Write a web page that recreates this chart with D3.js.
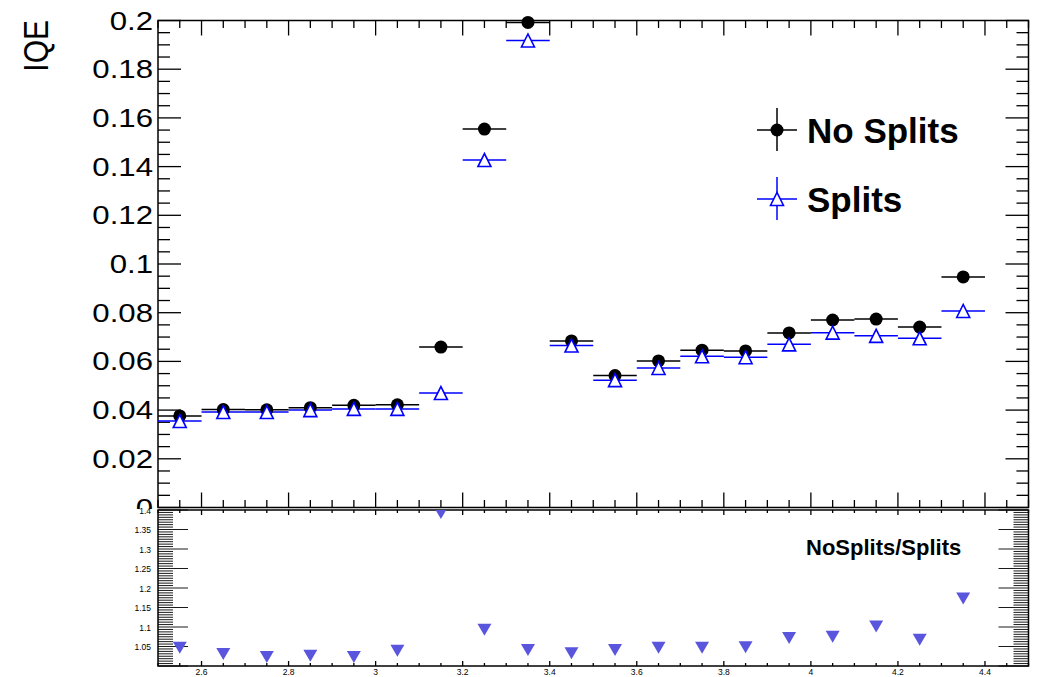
<!DOCTYPE html>
<html>
<head>
<meta charset="utf-8">
<script src="https://cdnjs.cloudflare.com/ajax/libs/d3/7.8.5/d3.min.js"></script>
<style>
body { margin:0; background:#fff; }
text { font-family: "Liberation Sans", Helvetica, Arial, sans-serif; }
</style>
</head>
<body>
<script>
// bin centres (bins are 0.1 wide)
var binCenters = [2.55,2.65,2.75,2.85,2.95,3.05,3.15,3.25,3.35,3.45,3.55,3.65,3.75,3.85,3.95,4.05,4.15,4.25,4.35];
var binHalf = 0.05;

// IQE, no splits
var noSplits = [0.0376,0.0402,0.0401,0.0410,0.0420,0.0422,0.0659,0.1554,0.1992,0.0684,0.0542,0.0602,0.0646,0.0643,0.0717,0.0770,0.0774,0.0741,0.0947];
// IQE, splits
var splits = [0.0355,0.0392,0.0392,0.0400,0.0405,0.0405,0.0470,0.1427,0.1918,0.0665,0.0523,0.0573,0.0621,0.0617,0.0670,0.0718,0.0705,0.0695,0.0807];
// ratio NoSplits/Splits as plotted in the lower pad
var ratio = [1.047,1.031,1.023,1.026,1.023,1.039,1.392,1.093,1.041,1.033,1.041,1.047,1.047,1.048,1.072,1.075,1.101,1.067,1.173];

var topYTicks = [0,0.02,0.04,0.06,0.08,0.1,0.12,0.14,0.16,0.18,0.2];
var topYLabels = ["0","0.02","0.04","0.06","0.08","0.1","0.12","0.14","0.16","0.18","0.2"];
var botYTicks = [1.05,1.1,1.15,1.2,1.25,1.3,1.35,1.4];
var botYLabels = ["1.05","1.1","1.15","1.2","1.25","1.3","1.35","1.4"];
var xTicks = [2.6,2.8,3,3.2,3.4,3.6,3.8,4,4.2,4.4];
var xLabels = ["2.6","2.8","3","3.2","3.4","3.6","3.8","4","4.2","4.4"];

var legendNames = ["No Splits","Splits"];

var screen = {width:1043,height:677};
var frame = {left:158,right:1028.5};
var topPad = {top:20.5,bottom:507.5};
var botPad = {top:510,bottom:666};

var svg = d3.select("body").append("svg")
    .attr("width",screen.width)
    .attr("height",screen.height);

var xScale = d3.scaleLinear().domain([2.5,4.5]).range([frame.left,frame.right]);
var yTop = d3.scaleLinear().domain([0,0.2]).range([topPad.bottom,topPad.top]);
var yBot = d3.scaleLinear().domain([1.0,1.4]).range([botPad.bottom,botPad.top]);

var tickLine = function(g,x1,y1,x2,y2,w,col)
{
    g.append("line").attr("x1",x1).attr("y1",y1).attr("x2",x2).attr("y2",y2)
        .attr("stroke",col||"#000").attr("stroke-width",w||1.3);
}

var xMinor = d3.range(2.5,4.5001,0.05);
var isMajorX = function(v){ return Math.abs(v*5-Math.round(v*5))<1e-6; }

// ---------------- top pad ----------------
var drawTopPad = function()
{
    var g = svg.append("g");
    // y ticks left + right
    d3.range(0,0.2001,0.005).forEach(function(v){
        var major = Math.abs(v*50-Math.round(v*50))<1e-6;
        var len = major ? 23 : 12;
        tickLine(g,frame.left,yTop(v),frame.left+len,yTop(v));
        tickLine(g,frame.right,yTop(v),frame.right-len,yTop(v));
    });
    // x ticks top + bottom
    xMinor.forEach(function(v){
        var len = isMajorX(v) ? 15 : 7.5;
        tickLine(g,xScale(v),topPad.top,xScale(v),topPad.top+len);
        tickLine(g,xScale(v),topPad.bottom,xScale(v),topPad.bottom-len);
    });
    g.append("rect")
        .attr("x",frame.left).attr("y",topPad.top)
        .attr("width",frame.right-frame.left).attr("height",topPad.bottom-topPad.top)
        .attr("fill","none").attr("stroke","#000").attr("stroke-width",1.5);

    g.selectAll(".ylab").data(topYTicks).enter().append("text")
        .attr("transform",function(d){ return "translate(153,"+(yTop(d)+9)+") scale(1.2,1)"; })
        .attr("text-anchor","end")
        .attr("font-size",26)
        .text(function(d,i){ return topYLabels[i]; });

    svg.append("text")
        .attr("transform","translate(48,20) rotate(-90) scale(1,1.17)")
        .attr("text-anchor","end")
        .attr("font-size",30)
        .text("IQE");
}

var drawSeries = function()
{
    var g = svg.append("g");
    // splits error bars (blue)
    g.selectAll(".bsplit").data(splits).enter().append("line")
        .attr("x1",function(d,i){ return xScale(binCenters[i]-binHalf); })
        .attr("x2",function(d,i){ return xScale(binCenters[i]+binHalf); })
        .attr("y1",function(d){ return yTop(d); })
        .attr("y2",function(d){ return yTop(d); })
        .attr("stroke","#0000ff").attr("stroke-width",1.5);
    // no splits error bars
    g.selectAll(".bnos").data(noSplits).enter().append("line")
        .attr("x1",function(d,i){ return xScale(binCenters[i]-binHalf); })
        .attr("x2",function(d,i){ return xScale(binCenters[i]+binHalf); })
        .attr("y1",function(d){ return yTop(d); })
        .attr("y2",function(d){ return yTop(d); })
        .attr("stroke","#000").attr("stroke-width",1.5);
    g.selectAll(".dot").data(noSplits).enter().append("circle")
        .attr("cx",function(d,i){ return xScale(binCenters[i]); })
        .attr("cy",function(d){ return yTop(d); })
        .attr("r",6.5).attr("fill","#000");
    g.selectAll(".tri").data(splits).enter().append("path")
        .attr("d",function(d,i){
            var cx = xScale(binCenters[i]), cy = yTop(d);
            return "M"+(cx-6.5)+","+(cy+6.5)+"L"+(cx+6.5)+","+(cy+6.5)+"L"+cx+","+(cy-6.5)+"Z";
        })
        .attr("fill","#fff").attr("stroke","#0000ff").attr("stroke-width",1.6);
}

var drawLegend = function()
{
    var g = svg.append("g");
    var rows = [{y:130,color:"#000"},{y:199,color:"#0000ff"}];
    rows.forEach(function(r,i){
        tickLine(g,757,r.y,797,r.y,1.5,r.color);
        tickLine(g,777,r.y-22,777,r.y+21,1.5,r.color);
        if(i==0){
            g.append("circle").attr("cx",777).attr("cy",r.y).attr("r",6.5).attr("fill","#000");
        } else {
            g.append("path")
                .attr("d","M770.5,"+(r.y+6.5)+"L783.5,"+(r.y+6.5)+"L777,"+(r.y-6.5)+"Z")
                .attr("fill","#fff").attr("stroke","#0000ff").attr("stroke-width",1.6);
        }
        g.append("text").attr("x",807).attr("y",r.y+13)
            .attr("font-size",35).attr("font-weight","bold")
            .text(legendNames[i]);
    });
}

// ---------------- bottom pad ----------------
var drawBottomPad = function()
{
    // the lower pad sits on top of the upper one
    svg.append("rect").attr("x",0).attr("y",botPad.top-1)
        .attr("width",screen.width).attr("height",screen.height-botPad.top+1)
        .attr("fill","#fff");
    var g = svg.append("g");
    var clip = svg.append("clipPath").attr("id","botclip");
    clip.append("rect").attr("x",frame.left).attr("y",botPad.top)
        .attr("width",frame.right-frame.left).attr("height",botPad.bottom-botPad.top);

    d3.range(1.0,1.4001,0.00625).forEach(function(v){
        var major = Math.abs(v*20-Math.round(v*20))<1e-6;
        var len = major ? 30 : 15;
        tickLine(g,frame.left,yBot(v),frame.left+len,yBot(v),0.9);
        tickLine(g,frame.right,yBot(v),frame.right-len,yBot(v),0.9);
    });
    xMinor.forEach(function(v){
        var len = isMajorX(v) ? 5 : 3;
        tickLine(g,xScale(v),botPad.top,xScale(v),botPad.top+len);
        tickLine(g,xScale(v),botPad.bottom,xScale(v),botPad.bottom-len);
    });
    g.append("rect")
        .attr("x",frame.left).attr("y",botPad.top)
        .attr("width",frame.right-frame.left).attr("height",botPad.bottom-botPad.top)
        .attr("fill","none").attr("stroke","#000").attr("stroke-width",1.5);

    g.selectAll(".by").data(botYTicks).enter().append("text")
        .attr("x",151).attr("y",function(d){ return yBot(d)+3.5; })
        .attr("text-anchor","end").attr("font-size",8.5)
        .text(function(d,i){ return botYLabels[i]; });
    g.selectAll(".bx").data(xTicks).enter().append("text")
        .attr("x",function(d){ return xScale(d); }).attr("y",675)
        .attr("text-anchor","middle").attr("font-size",8.5)
        .text(function(d,i){ return xLabels[i]; });

    svg.append("g").attr("clip-path","url(#botclip)")
        .selectAll(".rt").data(ratio).enter().append("path")
        .attr("d",function(d,i){
            var cx = xScale(binCenters[i]), cy = yBot(d);
            return "M"+(cx-7)+","+(cy-6)+"L"+(cx+7)+","+(cy-6)+"L"+cx+","+(cy+6)+"Z";
        })
        .attr("fill","#5a55dd");

    svg.append("text").attr("x",806).attr("y",555)
        .attr("font-size",22).attr("font-weight","bold")
        .text("NoSplits/Splits");
}

drawTopPad();
drawSeries();
drawLegend();
drawBottomPad();
</script>
</body>
</html>
